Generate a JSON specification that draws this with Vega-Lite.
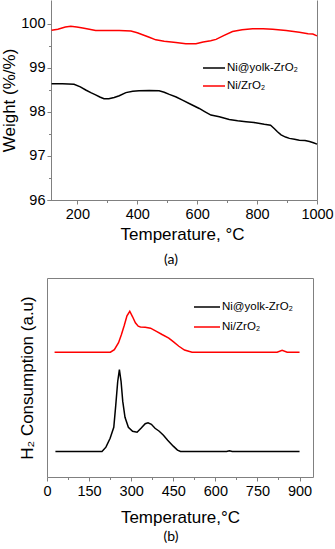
{
  "$schema": "https://vega.github.io/schema/vega-lite/v6.json",
  "padding": {"left": 0, "top": 0, "right": 0, "bottom": 0},
  "background": "white",
  "config": {
    "font": "Liberation Sans",
    "axis": {"labelFont": "Liberation Sans", "titleFont": "Liberation Sans", "labelColor": "#000000", "titleColor": "#000000", "titleFontWeight": "normal", "labelFontSize": 14.5, "titleFontSize": 17, "domainColor": "#808080", "tickColor": "#808080", "grid": false, "labelFlush": false, "labelOverlap": false},
    "legend": {"labelFont": "Liberation Sans", "labelFontSize": 11.5, "labelColor": "#000000", "symbolType": "stroke", "symbolStrokeWidth": 1.5, "padding": 0, "labelOffset": 1}
  },
  "datasets": {
    "tga": [
      {"series": "Ni@yolk-ZrO₂", "T": 114, "v": 98.64},
      {"series": "Ni@yolk-ZrO₂", "T": 150, "v": 98.64},
      {"series": "Ni@yolk-ZrO₂", "T": 189, "v": 98.63},
      {"series": "Ni@yolk-ZrO₂", "T": 210, "v": 98.57},
      {"series": "Ni@yolk-ZrO₂", "T": 228, "v": 98.50},
      {"series": "Ni@yolk-ZrO₂", "T": 245, "v": 98.44},
      {"series": "Ni@yolk-ZrO₂", "T": 261, "v": 98.39},
      {"series": "Ni@yolk-ZrO₂", "T": 275, "v": 98.34},
      {"series": "Ni@yolk-ZrO₂", "T": 289, "v": 98.30},
      {"series": "Ni@yolk-ZrO₂", "T": 305, "v": 98.30},
      {"series": "Ni@yolk-ZrO₂", "T": 323, "v": 98.33},
      {"series": "Ni@yolk-ZrO₂", "T": 340, "v": 98.37},
      {"series": "Ni@yolk-ZrO₂", "T": 362, "v": 98.44},
      {"series": "Ni@yolk-ZrO₂", "T": 385, "v": 98.47},
      {"series": "Ni@yolk-ZrO₂", "T": 406, "v": 98.48},
      {"series": "Ni@yolk-ZrO₂", "T": 440, "v": 98.49},
      {"series": "Ni@yolk-ZrO₂", "T": 473, "v": 98.48},
      {"series": "Ni@yolk-ZrO₂", "T": 490, "v": 98.45},
      {"series": "Ni@yolk-ZrO₂", "T": 507, "v": 98.40},
      {"series": "Ni@yolk-ZrO₂", "T": 530, "v": 98.34},
      {"series": "Ni@yolk-ZrO₂", "T": 551, "v": 98.27},
      {"series": "Ni@yolk-ZrO₂", "T": 580, "v": 98.17},
      {"series": "Ni@yolk-ZrO₂", "T": 607, "v": 98.08},
      {"series": "Ni@yolk-ZrO₂", "T": 625, "v": 98.01},
      {"series": "Ni@yolk-ZrO₂", "T": 646, "v": 97.93},
      {"series": "Ni@yolk-ZrO₂", "T": 674, "v": 97.89},
      {"series": "Ni@yolk-ZrO₂", "T": 707, "v": 97.83},
      {"series": "Ni@yolk-ZrO₂", "T": 735, "v": 97.80},
      {"series": "Ni@yolk-ZrO₂", "T": 763, "v": 97.78},
      {"series": "Ni@yolk-ZrO₂", "T": 790, "v": 97.76},
      {"series": "Ni@yolk-ZrO₂", "T": 824, "v": 97.72},
      {"series": "Ni@yolk-ZrO₂", "T": 845, "v": 97.70},
      {"series": "Ni@yolk-ZrO₂", "T": 858, "v": 97.62},
      {"series": "Ni@yolk-ZrO₂", "T": 868, "v": 97.55},
      {"series": "Ni@yolk-ZrO₂", "T": 880, "v": 97.48},
      {"series": "Ni@yolk-ZrO₂", "T": 895, "v": 97.43},
      {"series": "Ni@yolk-ZrO₂", "T": 908, "v": 97.40},
      {"series": "Ni@yolk-ZrO₂", "T": 925, "v": 97.38},
      {"series": "Ni@yolk-ZrO₂", "T": 941, "v": 97.36},
      {"series": "Ni@yolk-ZrO₂", "T": 960, "v": 97.35},
      {"series": "Ni@yolk-ZrO₂", "T": 975, "v": 97.33},
      {"series": "Ni@yolk-ZrO₂", "T": 988, "v": 97.30},
      {"series": "Ni@yolk-ZrO₂", "T": 1000, "v": 97.27},
      {"series": "Ni/ZrO₂", "T": 114, "v": 99.86},
      {"series": "Ni/ZrO₂", "T": 135, "v": 99.88},
      {"series": "Ni/ZrO₂", "T": 160, "v": 99.93},
      {"series": "Ni/ZrO₂", "T": 178, "v": 99.95},
      {"series": "Ni/ZrO₂", "T": 198, "v": 99.93},
      {"series": "Ni/ZrO₂", "T": 218, "v": 99.91},
      {"series": "Ni/ZrO₂", "T": 240, "v": 99.88},
      {"series": "Ni/ZrO₂", "T": 261, "v": 99.85},
      {"series": "Ni/ZrO₂", "T": 300, "v": 99.85},
      {"series": "Ni/ZrO₂", "T": 340, "v": 99.85},
      {"series": "Ni/ZrO₂", "T": 379, "v": 99.84},
      {"series": "Ni/ZrO₂", "T": 400, "v": 99.80},
      {"series": "Ni/ZrO₂", "T": 420, "v": 99.75},
      {"series": "Ni/ZrO₂", "T": 440, "v": 99.70},
      {"series": "Ni/ZrO₂", "T": 462, "v": 99.64},
      {"series": "Ni/ZrO₂", "T": 490, "v": 99.61},
      {"series": "Ni/ZrO₂", "T": 529, "v": 99.58},
      {"series": "Ni/ZrO₂", "T": 562, "v": 99.55},
      {"series": "Ni/ZrO₂", "T": 596, "v": 99.55},
      {"series": "Ni/ZrO₂", "T": 620, "v": 99.59},
      {"series": "Ni/ZrO₂", "T": 645, "v": 99.62},
      {"series": "Ni/ZrO₂", "T": 663, "v": 99.65},
      {"series": "Ni/ZrO₂", "T": 690, "v": 99.74},
      {"series": "Ni/ZrO₂", "T": 718, "v": 99.83},
      {"series": "Ni/ZrO₂", "T": 750, "v": 99.87},
      {"series": "Ni/ZrO₂", "T": 785, "v": 99.89},
      {"series": "Ni/ZrO₂", "T": 820, "v": 99.89},
      {"series": "Ni/ZrO₂", "T": 852, "v": 99.88},
      {"series": "Ni/ZrO₂", "T": 897, "v": 99.85},
      {"series": "Ni/ZrO₂", "T": 941, "v": 99.81},
      {"series": "Ni/ZrO₂", "T": 970, "v": 99.78},
      {"series": "Ni/ZrO₂", "T": 986, "v": 99.77},
      {"series": "Ni/ZrO₂", "T": 1000, "v": 99.73}
    ],
    "tpr": [
      {"series": "Ni@yolk-ZrO₂", "T": 30, "v": 12.8},
      {"series": "Ni@yolk-ZrO₂", "T": 100, "v": 12.8},
      {"series": "Ni@yolk-ZrO₂", "T": 196, "v": 12.8},
      {"series": "Ni@yolk-ZrO₂", "T": 210, "v": 15},
      {"series": "Ni@yolk-ZrO₂", "T": 225, "v": 19.5},
      {"series": "Ni@yolk-ZrO₂", "T": 238, "v": 25},
      {"series": "Ni@yolk-ZrO₂", "T": 245, "v": 36},
      {"series": "Ni@yolk-ZrO₂", "T": 252, "v": 48},
      {"series": "Ni@yolk-ZrO₂", "T": 258, "v": 54},
      {"series": "Ni@yolk-ZrO₂", "T": 264, "v": 48},
      {"series": "Ni@yolk-ZrO₂", "T": 270, "v": 38},
      {"series": "Ni@yolk-ZrO₂", "T": 278, "v": 30},
      {"series": "Ni@yolk-ZrO₂", "T": 290, "v": 25},
      {"series": "Ni@yolk-ZrO₂", "T": 305, "v": 23},
      {"series": "Ni@yolk-ZrO₂", "T": 321, "v": 22.5},
      {"series": "Ni@yolk-ZrO₂", "T": 335, "v": 24.5},
      {"series": "Ni@yolk-ZrO₂", "T": 350, "v": 26.8},
      {"series": "Ni@yolk-ZrO₂", "T": 360, "v": 27.2},
      {"series": "Ni@yolk-ZrO₂", "T": 372, "v": 26.5},
      {"series": "Ni@yolk-ZrO₂", "T": 385, "v": 24.5},
      {"series": "Ni@yolk-ZrO₂", "T": 400, "v": 23},
      {"series": "Ni@yolk-ZrO₂", "T": 415, "v": 21},
      {"series": "Ni@yolk-ZrO₂", "T": 430, "v": 18.5},
      {"series": "Ni@yolk-ZrO₂", "T": 450, "v": 15.5},
      {"series": "Ni@yolk-ZrO₂", "T": 465, "v": 13.5},
      {"series": "Ni@yolk-ZrO₂", "T": 476, "v": 12.8},
      {"series": "Ni@yolk-ZrO₂", "T": 640, "v": 12.8},
      {"series": "Ni@yolk-ZrO₂", "T": 650, "v": 13.2},
      {"series": "Ni@yolk-ZrO₂", "T": 660, "v": 12.8},
      {"series": "Ni@yolk-ZrO₂", "T": 900, "v": 12.8},
      {"series": "Ni/ZrO₂", "T": 27, "v": 62.7},
      {"series": "Ni/ZrO₂", "T": 226, "v": 62.7},
      {"series": "Ni/ZrO₂", "T": 240, "v": 64},
      {"series": "Ni/ZrO₂", "T": 255, "v": 67.5},
      {"series": "Ni/ZrO₂", "T": 265, "v": 71.5},
      {"series": "Ni/ZrO₂", "T": 275, "v": 76},
      {"series": "Ni/ZrO₂", "T": 285, "v": 81},
      {"series": "Ni/ZrO₂", "T": 295, "v": 83.3},
      {"series": "Ni/ZrO₂", "T": 305, "v": 80.5},
      {"series": "Ni/ZrO₂", "T": 315, "v": 77.5},
      {"series": "Ni/ZrO₂", "T": 325, "v": 75.8},
      {"series": "Ni/ZrO₂", "T": 333, "v": 75.4},
      {"series": "Ni/ZrO₂", "T": 350, "v": 75.3},
      {"series": "Ni/ZrO₂", "T": 369, "v": 74.8},
      {"series": "Ni/ZrO₂", "T": 390, "v": 73.2},
      {"series": "Ni/ZrO₂", "T": 410, "v": 71.6},
      {"series": "Ni/ZrO₂", "T": 434, "v": 69.8},
      {"series": "Ni/ZrO₂", "T": 450, "v": 68},
      {"series": "Ni/ZrO₂", "T": 470, "v": 65.7},
      {"series": "Ni/ZrO₂", "T": 490, "v": 63.8},
      {"series": "Ni/ZrO₂", "T": 517, "v": 62.7},
      {"series": "Ni/ZrO₂", "T": 820, "v": 62.7},
      {"series": "Ni/ZrO₂", "T": 838, "v": 63.7},
      {"series": "Ni/ZrO₂", "T": 856, "v": 62.7},
      {"series": "Ni/ZrO₂", "T": 900, "v": 62.7}
    ]
  },
  "resolve": {"legend": {"color": "independent"}, "scale": {"x": "independent", "y": "independent", "color": "independent"}},
  "spacing": 10,
  "vconcat": [
    {
      "width": 270,
      "height": 200,
      "view": {"stroke": null},
      "title": {"text": "(a)", "orient": "bottom", "font": "Lato", "fontSize": 14, "fontWeight": "normal", "color": "#000000", "offset": 10, "dx": -11},
      "data": {"name": "tga"},
      "layer": [
        {
          "mark": {"type": "line", "strokeWidth": 1.5},
          "encoding": {
            "x": {"field": "T", "type": "quantitative", "scale": {"domain": [98.7, 1000], "nice": false, "zero": false},
              "axis": {"title": "Temperature, °C", "format": "d", "values": [200, 300, 400, 500, 600, 700, 800, 900, 1000],
                "labelExpr": "datum.value % 200 === 0 ? datum.label : ''",
                "tickSize": {"condition": {"test": "datum.value % 200 === 0", "value": 4}, "value": 2.5},
                "labelPadding": 3, "titlePadding": 6}},
            "y": {"field": "v", "type": "quantitative", "scale": {"domain": [96, 100.545], "nice": false, "zero": false},
              "axis": {"title": "Weight (%/%)", "offset": -4, "format": ".0f", "values": [96, 96.5, 97, 97.5, 98, 98.5, 99, 99.5, 100],
                "labelExpr": "datum.value % 1 === 0 ? datum.label : ''",
                "tickSize": {"condition": {"test": "datum.value % 1 === 0", "value": 4}, "value": 2.5},
                "labelPadding": 2, "titlePadding": 2}},
            "color": {"field": "series", "type": "nominal",
              "scale": {"domain": ["Ni@yolk-ZrO₂", "Ni/ZrO₂"], "range": ["#000000", "#ff0000"]},
              "legend": {"title": null, "orient": "none", "legendX": 155, "legendY": 56, "symbolSize": 484, "rowPadding": -4}}
          }
        },
        {
          "mark": {"type": "rule", "opacity": 0},
          "encoding": {
            "y": {"field": "v", "type": "quantitative", "axis": {"orient": "right", "labels": false, "ticks": false, "title": null}}
          }
        }
      ],
      "resolve": {"axis": {"y": "independent"}}
    },
    {
      "width": 266,
      "height": 199,
      "view": {"stroke": "#808080"},
      "title": {"text": "(b)", "orient": "bottom", "font": "Lato", "fontSize": 14, "fontWeight": "normal", "color": "#000000", "offset": 4, "dx": -9},
      "data": {"name": "tpr"},
      "mark": {"type": "line", "strokeWidth": 1.5},
      "encoding": {
        "x": {"field": "T", "type": "quantitative", "scale": {"domain": [0, 948], "nice": false, "zero": false},
          "axis": {"title": "Temperature,°C", "domain": false, "values": [0, 75, 150, 225, 300, 375, 450, 525, 600, 675, 750, 825, 900],
            "labelExpr": "datum.value % 150 === 0 ? datum.label : ''",
            "tickSize": {"condition": {"test": "datum.value % 150 === 0", "value": 4}, "value": 2.5},
            "labelPadding": 3, "titlePadding": 12}},
        "y": {"field": "v", "type": "quantitative", "scale": {"domain": [0, 100], "nice": false},
          "axis": {"title": "H₂ Consumption (a.u)", "labels": false, "ticks": false, "domain": false, "titlePadding": 11}},
        "color": {"field": "series", "type": "nominal",
          "scale": {"domain": ["Ni@yolk-ZrO₂", "Ni/ZrO₂"], "range": ["#000000", "#ff0000"]},
          "legend": {"title": null, "orient": "none", "legendX": 146, "legendY": 15, "symbolSize": 676, "rowPadding": -4}}
      }
    }
  ]
}
